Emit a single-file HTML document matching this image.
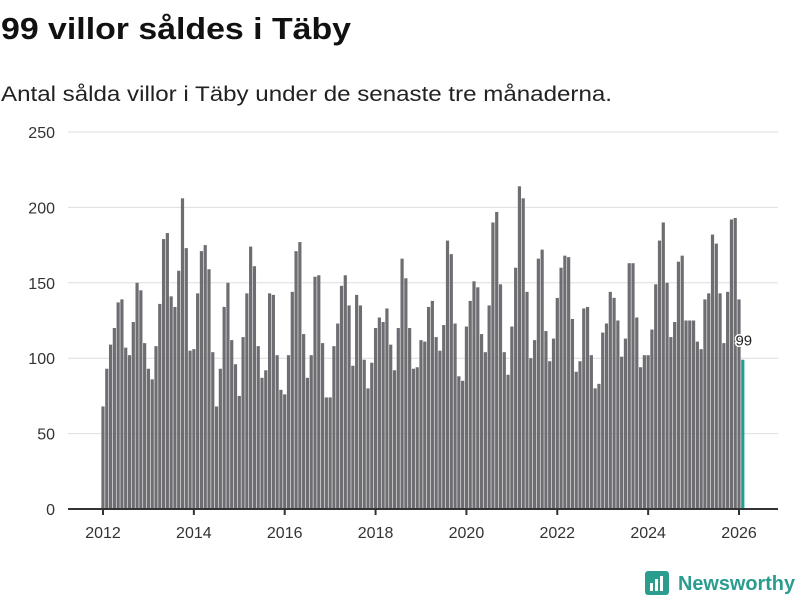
<!DOCTYPE html>
<html><head><meta charset="utf-8"><style>
body{margin:0;background:#fff;width:800px;height:600px;overflow:hidden;font-family:"Liberation Sans","DejaVu Sans",sans-serif}
</style></head><body>
<svg id="chart" width="800" height="600" xmlns="http://www.w3.org/2000/svg">
<text x="1" y="39" font-size="31" font-weight="bold" fill="#111" textLength="350" lengthAdjust="spacingAndGlyphs">99 villor såldes i Täby</text>
<text x="1" y="101" font-size="21" fill="#222" textLength="611" lengthAdjust="spacingAndGlyphs">Antal sålda villor i Täby under de senaste tre månaderna.</text>
<g id="grid"></g><g id="bars"></g><g id="xaxis"></g>
<g>
<rect x="645" y="571" width="24" height="24" rx="3" fill="#2a9d8f"/>
<rect x="650" y="583" width="3" height="8" fill="#fff"/><rect x="655" y="579" width="3" height="12" fill="#fff"/><rect x="660" y="576" width="3" height="15" fill="#fff"/>
<text x="678" y="590" font-size="20" font-weight="bold" fill="#2a9d8f" textLength="117" lengthAdjust="spacingAndGlyphs">Newsworthy</text>
</g>
</svg>
<script>
const yTicks=[0,50,100,150,200,250];
const xTickYears=[2012,2014,2016,2018,2020,2022,2024,2026];
const startYear=2012;
const values=[
68,93,109,120,137,139,107,102,124,150,145,110,
93,86,108,136,179,183,141,134,158,206,173,105,
106,143,171,175,159,104,68,93,134,150,112,96,
75,114,143,174,161,108,87,92,143,142,102,79,
76,102,144,171,177,116,87,102,154,155,110,74,
74,108,123,148,155,135,95,142,135,99,80,97,
120,127,124,133,109,92,120,166,153,120,93,94,
112,111,134,138,114,105,122,178,169,123,88,85,
121,138,151,147,116,104,135,190,197,149,104,89,
121,160,214,206,144,100,112,166,172,118,98,113,
140,160,168,167,126,91,98,133,134,102,80,83,
117,123,144,140,125,101,113,163,163,127,94,102,
102,119,149,178,190,150,114,124,164,168,125,125,
125,111,106,139,143,182,176,143,110,144,192,193,
139,99];
const NS="http://www.w3.org/2000/svg";
const y0=509,yPerUnit=(509-132)/250;
const xOf=i=>103+i*(636/168);
const yOf=v=>y0-v*yPerUnit;
function mk(t,a){const e=document.createElementNS(NS,t);for(const k in a)e.setAttribute(k,a[k]);return e;}
const grid=document.getElementById('grid');
yTicks.forEach(t=>{
 if(t>0){const l=mk('line',{x1:68,x2:778,y1:yOf(t),y2:yOf(t),stroke:'#dedede','stroke-width':1});
 
 
 grid.appendChild(l);}
 const tx=mk('text',{x:55,y:yOf(t)+6,'text-anchor':'end','font-size':16,fill:'#333'});
 
 
 tx.textContent=t;grid.appendChild(tx);
});
const bars=document.getElementById('bars');
values.forEach((v,i)=>{
 const last=i===values.length-1;
 const r=mk('rect',{x:xOf(i)-1.6,y:yOf(v),width:3.2,height:v*yPerUnit,fill:last?'#1f9e96':'#6e6d72'});
 
 
 bars.appendChild(r);
});
const li=values.length-1;
const lab=mk('text',{x:xOf(li)+1,y:yOf(values[li])-14,'text-anchor':'middle','font-size':15,fill:'#222',stroke:'#fff','stroke-width':3,'paint-order':'stroke'});


lab.textContent=values[li];bars.appendChild(lab);
const xa=document.getElementById('xaxis');
const ax=mk('line',{x1:68,x2:778,y1:509,y2:509,stroke:'#333','stroke-width':2});


xa.appendChild(ax);
xTickYears.forEach(yr=>{
 const x=xOf((yr-startYear)*12);
 const tk=mk('line',{x1:x,x2:x,y1:509,y2:515,stroke:'#333','stroke-width':2});
 
 
 xa.appendChild(tk);
 const t=mk('text',{x:x,y:538,'text-anchor':'middle','font-size':16,fill:'#333'});
 
 
 t.textContent=yr;xa.appendChild(t);
});
</script>
</body></html>
